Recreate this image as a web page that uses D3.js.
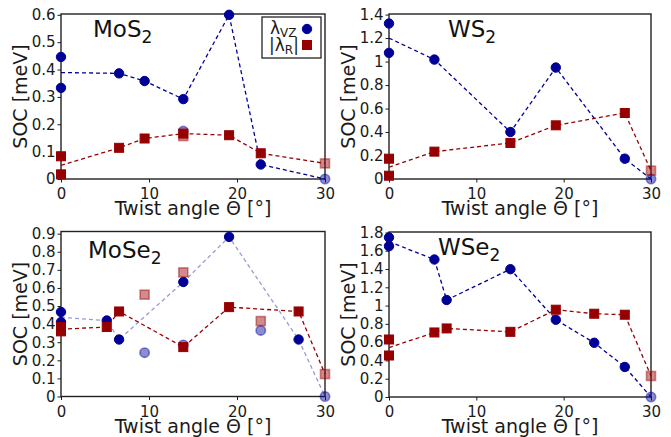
<!DOCTYPE html>
<html>
<head>
<meta charset="utf-8">
<script src="https://cdn.jsdelivr.net/npm/d3@7"></script>
<style>
  html, body { margin: 0; padding: 0; background: #fff; }
  svg { display: block; font-family: "DejaVu Sans", sans-serif; }
</style>
</head>
<body>
<svg id="chart" width="671" height="437"></svg>
<script>
// ---- Data: spin-orbit couplings vs. twist angle ----
const xTicks = [0, 10, 20, 30];

// MoS2
const mos2VzAngle  = [0, 0, 6.6, 9.5, 13.9, 19.1, 22.7, 13.9, 30];
const mos2VzValue  = [0.446, 0.333, 0.386, 0.358, 0.292, 0.6, 0.053, 0.175, 0];
const mos2VzFaint  = [0, 0, 0, 0, 0, 0, 0, 1, 1];
const mos2VzGuideAngle = [0, 6.6, 9.5, 13.9, 19.1, 22.7, 30];
const mos2VzGuideValue = [0.389, 0.386, 0.358, 0.292, 0.6, 0.053, 0];
const mos2RAngle   = [0, 0, 6.6, 9.5, 13.9, 19.1, 22.7, 13.9, 30];
const mos2RValue   = [0.083, 0.017, 0.114, 0.148, 0.166, 0.16, 0.094, 0.157, 0.057];
const mos2RFaint   = [0, 0, 0, 0, 0, 0, 0, 1, 1];
const mos2RGuideAngle = [0, 6.6, 9.5, 13.9, 19.1, 22.7, 30];
const mos2RGuideValue = [0.05, 0.114, 0.148, 0.166, 0.16, 0.094, 0.057];
const mos2YTicks = [0, 0.1, 0.2, 0.3, 0.4, 0.5, 0.6];

// WS2
const ws2VzAngle  = [0, 0, 5.2, 13.9, 19.1, 27, 30];
const ws2VzValue  = [1.324, 1.074, 1.017, 0.40, 0.949, 0.173, 0];
const ws2VzFaint  = [0, 0, 0, 0, 0, 0, 1];
const ws2VzGuideAngle = [0, 5.2, 13.9, 19.1, 27, 30];
const ws2VzGuideValue = [1.2, 1.017, 0.40, 0.949, 0.173, 0];
const ws2RAngle   = [0, 0, 5.2, 13.9, 19.1, 27, 30];
const ws2RValue   = [0.173, 0.028, 0.233, 0.307, 0.457, 0.562, 0.071];
const ws2RFaint   = [0, 0, 0, 0, 0, 0, 1];
const ws2RGuideAngle = [0, 5.2, 13.9, 19.1, 27, 30];
const ws2RGuideValue = [0.10, 0.233, 0.307, 0.457, 0.562, 0.071];
const ws2YTicks = [0, 0.2, 0.4, 0.6, 0.8, 1, 1.2, 1.4];

// MoSe2
const mose2VzAngle = [0, 0, 5.2, 6.6, 13.9, 19.1, 27, 9.5, 13.9, 22.7, 30];
const mose2VzValue = [0.467, 0.411, 0.42, 0.315, 0.633, 0.882, 0.315, 0.242, 0.285, 0.365, 0];
const mose2VzFaint = [0, 0, 0, 0, 0, 0, 0, 1, 1, 1, 1];
const mose2VzGuideAngle = [0, 5.2, 6.6, 13.9, 19.1, 27, 30];
const mose2VzGuideValue = [0.437, 0.42, 0.315, 0.633, 0.882, 0.315, 0];
const mose2RAngle  = [0, 0, 5.2, 6.6, 13.9, 19.1, 27, 9.5, 13.9, 22.7, 30];
const mose2RValue  = [0.384, 0.36, 0.384, 0.47, 0.273, 0.494, 0.47, 0.563, 0.686, 0.417, 0.124];
const mose2RFaint  = [0, 0, 0, 0, 0, 0, 0, 1, 1, 1, 1];
const mose2RGuideAngle = [0, 5.2, 6.6, 13.9, 19.1, 27, 30];
const mose2RGuideValue = [0.372, 0.384, 0.47, 0.273, 0.494, 0.47, 0.124];
const mose2YTicks = [0, 0.1, 0.2, 0.3, 0.4, 0.5, 0.6, 0.7, 0.8, 0.9];

// WSe2
const wse2VzAngle = [0, 0, 5.2, 6.6, 13.9, 19.1, 23.5, 27, 30];
const wse2VzValue = [1.745, 1.65, 1.504, 1.061, 1.398, 0.845, 0.593, 0.329, 0];
const wse2VzFaint = [0, 0, 0, 0, 0, 0, 0, 0, 1];
const wse2VzGuideAngle = [0, 5.2, 6.6, 13.9, 19.1, 23.5, 27, 30];
const wse2VzGuideValue = [1.70, 1.504, 1.061, 1.398, 0.845, 0.593, 0.329, 0];
const wse2RAngle  = [0, 0, 5.2, 6.6, 13.9, 19.1, 23.5, 27, 30];
const wse2RValue  = [0.629, 0.454, 0.706, 0.75, 0.713, 0.955, 0.911, 0.90, 0.23];
const wse2RFaint  = [0, 0, 0, 0, 0, 0, 0, 0, 1];
const wse2RGuideAngle = [0, 5.2, 6.6, 13.9, 19.1, 23.5, 27, 30];
const wse2RGuideValue = [0.54, 0.706, 0.75, 0.713, 0.955, 0.911, 0.90, 0.23];
const wse2YTicks = [0, 0.2, 0.4, 0.6, 0.8, 1, 1.2, 1.4, 1.6, 1.8];

// ---- Styling ----
const BLUE = "#000096";
const RED = "#960000";
const FAINT = 0.45;

const svg = d3.select("#chart");
svg.append("rect").attr("width", 671).attr("height", 437).attr("fill", "#fff");

const zip = (a, v, f) => a.map((d, i) => ({ x: d, y: v[i], faint: f ? !!f[i] : false }));

const panels = [
  { main: "MoS", sub: "2", box: [61, 325, 14, 179], ymax: 0.603, yTicks: mos2YTicks,
    titleAt: [93, 37], legend: true, vzGuideFaint: false,
    vz: zip(mos2VzAngle, mos2VzValue, mos2VzFaint), r: zip(mos2RAngle, mos2RValue, mos2RFaint),
    vzGuide: zip(mos2VzGuideAngle, mos2VzGuideValue), rGuide: zip(mos2RGuideAngle, mos2RGuideValue) },
  { main: "WS", sub: "2", box: [389, 651, 14, 179], ymax: 1.405, yTicks: ws2YTicks,
    titleAt: [448, 37], legend: false, vzGuideFaint: false,
    vz: zip(ws2VzAngle, ws2VzValue, ws2VzFaint), r: zip(ws2RAngle, ws2RValue, ws2RFaint),
    vzGuide: zip(ws2VzGuideAngle, ws2VzGuideValue), rGuide: zip(ws2RGuideAngle, ws2RGuideValue) },
  { main: "MoSe", sub: "2", box: [61, 325, 231.5, 396.5], ymax: 0.912, yTicks: mose2YTicks,
    titleAt: [88, 258], legend: false, vzGuideFaint: true,
    vz: zip(mose2VzAngle, mose2VzValue, mose2VzFaint), r: zip(mose2RAngle, mose2RValue, mose2RFaint),
    vzGuide: zip(mose2VzGuideAngle, mose2VzGuideValue), rGuide: zip(mose2RGuideAngle, mose2RGuideValue) },
  { main: "WSe", sub: "2", box: [389, 651, 232, 397], ymax: 1.805, yTicks: wse2YTicks,
    titleAt: [438, 255], legend: false, vzGuideFaint: false,
    vz: zip(wse2VzAngle, wse2VzValue, wse2VzFaint), r: zip(wse2RAngle, wse2RValue, wse2RFaint),
    vzGuide: zip(wse2VzGuideAngle, wse2VzGuideValue), rGuide: zip(wse2RGuideAngle, wse2RGuideValue) }
];

const fmt = d => String(+d.toFixed(1));

function drawCircle(g, cx, cy, color, faint) {
  g.append("circle").attr("cx", cx).attr("cy", cy).attr("r", 4.7)
    .attr("fill", color).attr("stroke", color).attr("stroke-width", faint ? 1.6 : 1)
    .attr("fill-opacity", faint ? FAINT : 1).attr("stroke-opacity", faint ? FAINT : 1);
}
function drawSquare(g, cx, cy, color, faint) {
  const s = 9;
  g.append("rect").attr("x", cx - s / 2).attr("y", cy - s / 2).attr("width", s).attr("height", s)
    .attr("fill", color).attr("stroke", color).attr("stroke-width", faint ? 1.6 : 1)
    .attr("fill-opacity", faint ? FAINT : 1).attr("stroke-opacity", faint ? FAINT : 1);
}

panels.forEach(p => {
  const [L, R, T, B] = p.box;
  const x = d3.scaleLinear().domain([0, 30]).range([L, R]);
  const y = d3.scaleLinear().domain([0, p.ymax]).range([B, T]);
  const g = svg.append("g");

  // axes
  const gx = g.append("g").attr("transform", `translate(0,${B})`)
    .call(d3.axisBottom(x).tickValues(xTicks).tickSize(3.5).tickPadding(6).tickFormat(d3.format("d")));
  const gy = g.append("g").attr("transform", `translate(${L},0)`)
    .call(d3.axisLeft(y).tickValues(p.yTicks).tickSize(3.5).tickPadding(2).tickFormat(fmt));
  [gx, gy].forEach(a => {
    a.select(".domain").remove();
    a.selectAll("line").attr("stroke", "#000").attr("stroke-width", 0.9);
    a.selectAll("text").attr("font-family", "DejaVu Sans").attr("font-size", 15).attr("fill", "#1a1a1a");
  });

  // frame
  g.append("rect").attr("x", L).attr("y", T).attr("width", R - L).attr("height", B - T)
    .attr("fill", "none").attr("stroke", "#222").attr("stroke-width", 1.4);

  // axis labels
  g.append("text").attr("x", (L + R) / 2).attr("y", B + 36).attr("text-anchor", "middle")
    .attr("font-size", 19).attr("fill", "#1a1a1a").text("Twist angle Θ [°]");
  g.append("text").attr("transform", `translate(${L - 34},${(T + B) / 2}) rotate(-90)`)
    .attr("text-anchor", "middle").attr("font-size", 19).attr("fill", "#1a1a1a").text("SOC [meV]");

  // material label
  const t = g.append("text").attr("x", p.titleAt[0]).attr("y", p.titleAt[1])
    .attr("font-size", 23).attr("fill", "#111");
  t.append("tspan").text(p.main);
  t.append("tspan").attr("font-size", 17).attr("dy", 6).text(p.sub);

  const line = d3.line().x(d => x(d.x)).y(d => y(d.y));

  // λVZ guide line and markers
  g.append("path").datum(p.vzGuide).attr("d", line).attr("fill", "none")
    .attr("stroke", BLUE).attr("stroke-width", 1.3).attr("stroke-dasharray", "4,3")
    .attr("stroke-opacity", p.vzGuideFaint ? 0.4 : 1);
  const mv = g.append("g");
  p.vz.filter(d => d.faint).forEach(d => drawCircle(mv, x(d.x), y(d.y), BLUE, true));
  p.vz.filter(d => !d.faint).forEach(d => drawCircle(mv, x(d.x), y(d.y), BLUE, false));

  // |λR| guide line and markers
  g.append("path").datum(p.rGuide).attr("d", line).attr("fill", "none")
    .attr("stroke", RED).attr("stroke-width", 1.3).attr("stroke-dasharray", "4,3");
  const mr = g.append("g");
  p.r.filter(d => d.faint).forEach(d => drawSquare(mr, x(d.x), y(d.y), RED, true));
  p.r.filter(d => !d.faint).forEach(d => drawSquare(mr, x(d.x), y(d.y), RED, false));

  // legend
  if (p.legend) {
    const lg = g.append("g");
    lg.append("rect").attr("x", 262).attr("y", 17).attr("width", 59).attr("height", 41)
      .attr("fill", "#fff").attr("stroke", "#111").attr("stroke-width", 1.2);
    const l1 = lg.append("text").attr("x", 270).attr("y", 34).attr("font-size", 17).attr("fill", "#1a1a1a");
    l1.append("tspan").text("λ");
    l1.append("tspan").attr("font-size", 12).attr("dy", 3).text("VZ");
    const l2 = lg.append("text").attr("x", 269).attr("y", 51).attr("font-size", 17).attr("fill", "#1a1a1a");
    l2.append("tspan").text("|λ");
    l2.append("tspan").attr("font-size", 12).attr("dy", 3).text("R");
    l2.append("tspan").attr("dy", -3).text("|");
    drawCircle(lg, 307, 29, BLUE, false);
    drawSquare(lg, 307, 45, RED, false);
  }
});
</script>
</body>
</html>
